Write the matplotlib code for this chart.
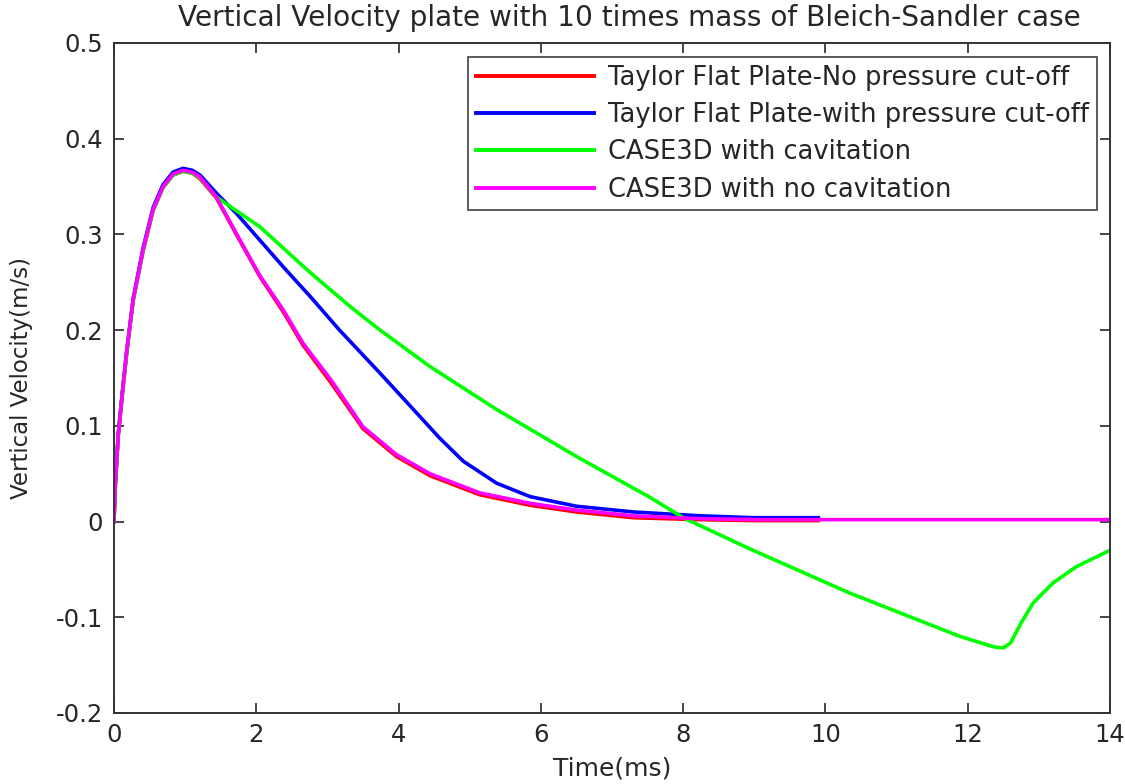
import matplotlib
matplotlib.use("Agg")
import matplotlib.pyplot as plt

plt.rcParams['font.family'] = ['DejaVu Sans']

# Time (ms) and vertical velocity (m/s) samples for each model
t_red = [0.0, 0.02, 0.06, 0.12, 0.18, 0.27, 0.41, 0.55, 0.69, 0.83, 0.97, 1.1, 1.21,
         1.44, 1.72, 2.05, 2.38, 2.66, 3.05, 3.50, 3.97, 4.44, 5.14, 5.85, 6.50, 7.3,
         8.2, 9.0, 9.9]
v_red = [0.0, 0.040, 0.090, 0.135, 0.177, 0.231, 0.283, 0.325, 0.349, 0.362, 0.366,
         0.364, 0.358, 0.338, 0.300, 0.256, 0.219, 0.184, 0.145, 0.097, 0.068, 0.048,
         0.028, 0.017, 0.010, 0.004, 0.002, 0.001, 0.001]

t_blue = [0.0, 0.02, 0.06, 0.12, 0.18, 0.27, 0.41, 0.55, 0.69, 0.83, 0.97, 1.1, 1.21,
          1.44, 1.72, 2.05, 2.38, 2.76, 3.17, 3.74, 4.21, 4.58, 4.91, 5.38, 5.85, 6.50,
          7.3, 8.24, 9.0, 9.9]
v_blue = [0.0, 0.041, 0.091, 0.137, 0.179, 0.233, 0.286, 0.328, 0.352, 0.365, 0.369,
          0.367, 0.362, 0.343, 0.322, 0.294, 0.266, 0.235, 0.200, 0.155, 0.117, 0.087,
          0.063, 0.040, 0.026, 0.016, 0.010, 0.006, 0.004, 0.004]

t_green = [0.0, 0.02, 0.06, 0.12, 0.18, 0.27, 0.41, 0.55, 0.69, 0.83, 0.97, 1.1, 1.21,
           1.44, 2.05, 2.76, 3.33, 3.74, 4.44, 5.38, 6.50, 7.54, 8.0, 8.95, 10.35,
           11.89, 12.37, 12.5, 12.6, 12.75, 12.92, 13.2, 13.53, 14.0]
v_green = [0.0, 0.040, 0.090, 0.135, 0.177, 0.231, 0.283, 0.325, 0.349, 0.362, 0.366,
           0.364, 0.359, 0.339, 0.308, 0.260, 0.224, 0.200, 0.162, 0.117, 0.068, 0.025,
           0.004, -0.029, -0.075, -0.120, -0.131, -0.132, -0.127, -0.106, -0.085,
           -0.064, -0.047, -0.030]

t_mag = [0.0, 0.02, 0.06, 0.12, 0.18, 0.27, 0.41, 0.55, 0.69, 0.83, 0.97, 1.1, 1.21,
         1.44, 1.72, 2.05, 2.38, 2.66, 3.05, 3.50, 3.97, 4.44, 5.14, 5.85, 6.50, 7.3,
         8.2, 9.0, 10.0, 12.0, 14.0]
v_mag = [0.0, 0.040, 0.090, 0.135, 0.178, 0.232, 0.284, 0.326, 0.350, 0.363, 0.367,
         0.365, 0.360, 0.339, 0.301, 0.257, 0.221, 0.186, 0.148, 0.099, 0.070, 0.050,
         0.030, 0.019, 0.012, 0.006, 0.003, 0.002, 0.002, 0.002, 0.002]

labels = ["Taylor Flat Plate-No pressure cut-off",
          "Taylor Flat Plate-with pressure cut-off",
          "CASE3D with cavitation",
          "CASE3D with no cavitation"]

xticks = [0, 2, 4, 6, 8, 10, 12, 14]
yticks = [-0.2, -0.1, 0, 0.1, 0.2, 0.3, 0.4, 0.5]
yticklabels = ["-0.2", "-0.1", "0", "0.1", "0.2", "0.3", "0.4", "0.5"]

text_color = "#262626"

fig = plt.figure(figsize=(11.25, 7.84), dpi=100)
ax = fig.add_axes([0.1013, 0.0906, 0.8854, 0.8546])

lw = 2.6
ax.plot(t_red, v_red, color="#ff0000", lw=lw, label=labels[0])
ax.plot(t_blue, v_blue, color="#0000ff", lw=lw, label=labels[1])
ax.plot(t_green, v_green, color="#00ff00", lw=lw, label=labels[2])
ax.plot(t_mag, v_mag, color="#ff00ff", lw=lw, label=labels[3])

ax.set_xlim(0, 14)
ax.set_ylim(-0.2, 0.5)
ax.set_xticks(xticks)
ax.set_xticklabels([str(x) for x in xticks])
ax.set_yticks(yticks)
ax.set_yticklabels(yticklabels)

ax.tick_params(direction="in", top=True, right=True, length=7, width=1.2,
               labelsize=17.5, colors=text_color)
ax.tick_params(axis="y", pad=8)
ax.tick_params(axis="x", pad=7)
for s in ax.spines.values():
    s.set_linewidth(1.4)
    s.set_color("#333333")

ax.set_xlabel("Time(ms)", fontsize=18, color=text_color, labelpad=7)
ax.set_ylabel("Vertical Velocity(m/s)", fontsize=16.5, color=text_color, labelpad=16)
ax.set_title("Vertical Velocity plate with 10 times mass of Bleich-Sandler case",
             fontsize=20.2, color=text_color, pad=12, x=0.517)

leg = ax.legend(loc="upper right", bbox_to_anchor=(0.9865, 0.979), fontsize=18.5,
                frameon=True, fancybox=False, edgecolor="#222222",
                handlelength=4.6, handletextpad=0.55, borderpad=0.3,
                labelspacing=0.44, borderaxespad=0.0)
leg.get_frame().set_linewidth(1.3)
for line in leg.get_lines():
    line.set_linewidth(2.8)
for txt in leg.get_texts():
    txt.set_color(text_color)

fig.savefig("out.png", dpi=100, facecolor="white")
